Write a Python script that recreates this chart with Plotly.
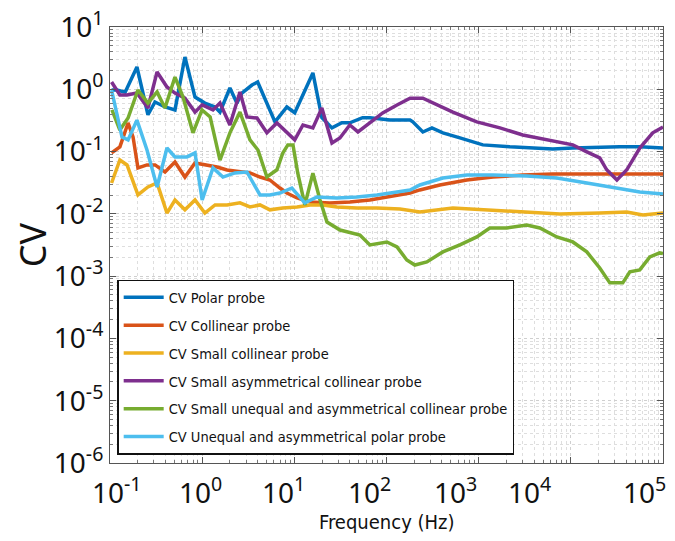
import plotly.graph_objects as go

# ---------------- data ----------------
f_polar = [0.104, 0.119, 0.146, 0.196, 0.258, 0.308, 0.395, 0.507, 0.65, 0.836, 1.07, 1.38, 1.56, 2.0, 2.38, 2.7,
           3.47, 4.0, 6.17, 8.3, 10.1, 15.9, 19.9, 25.6, 32.8, 40, 55, 66, 109, 180, 193, 248, 311, 409, 626, 1110,
           2180, 3870, 6380, 10500, 20600, 34000, 56000, 100000]
cv_polar = [0.97, 0.97, 0.9, 2.28, 0.39, 0.625, 0.52, 0.466, 3.3, 0.75, 0.6, 0.52, 0.43, 1.05, 0.6, 0.87,
            1.17, 1.31, 0.30, 0.52, 0.42, 1.83, 0.35, 0.24, 0.29, 0.29, 0.35, 0.35, 0.32, 0.32, 0.30, 0.206, 0.24,
            0.2, 0.166, 0.128, 0.119, 0.114, 0.11, 0.114, 0.119, 0.119, 0.119, 0.114]

f_coll = [0.104, 0.128, 0.157, 0.178, 0.201, 0.252, 0.308, 0.395, 0.507, 0.65, 0.836, 1.13, 1.45, 1.86, 2.57, 3.3,
          4.24, 5.43, 6.98, 8.3, 10.7, 14.8, 24.3, 40, 66, 109, 180, 230, 379, 745, 1430, 3010, 6380, 14900,
          47000, 100000]
cv_coll = [0.095, 0.119, 0.288, 0.171, 0.0546, 0.061, 0.061, 0.047, 0.068, 0.039, 0.0656, 0.061, 0.0566, 0.0507,
           0.047, 0.0454, 0.039, 0.035, 0.026, 0.0216, 0.018, 0.0155, 0.015, 0.0155, 0.0167, 0.0187, 0.0216,
           0.0242, 0.0291, 0.035, 0.039, 0.042, 0.0437, 0.0437, 0.0437, 0.0437]

f_small = [0.104, 0.128, 0.153, 0.201, 0.258, 0.324, 0.415, 0.507, 0.65, 0.836, 1.07, 1.38, 1.86, 2.57, 3.3, 4.24,
           5.43, 7.5, 10.7, 14.8, 20.4, 29, 47.8, 78.7, 140, 230, 525, 1230, 2800, 7600, 20600, 40500, 60400,
           100000]
cv_small = [0.0313, 0.0733, 0.061, 0.0201, 0.027, 0.0313, 0.0103, 0.0167, 0.0116, 0.0167, 0.0103, 0.0139, 0.0139,
            0.015, 0.0129, 0.0139, 0.0116, 0.0124, 0.0129, 0.0139, 0.0139, 0.0129, 0.0124, 0.0124, 0.012, 0.0107,
            0.0124, 0.0116, 0.0107, 0.00996, 0.0103, 0.0107, 0.0096, 0.0103]

f_asym = [0.104, 0.128, 0.153, 0.196, 0.258, 0.324, 0.415, 0.507, 0.65, 0.836, 1.0, 1.31, 1.56, 2.0, 2.57, 3.06,
          3.93, 5.04, 6.47, 8.3, 10.1, 12.4, 15.9, 19.9, 25.6, 31.2, 40, 49, 66, 91, 130, 180, 248, 318, 525, 955,
          1700, 3010, 5490, 8190, 10500, 14900, 20600, 24500, 31600, 40500, 56000, 77400, 100000]
cv_asym = [1.31, 0.81, 0.81, 0.87, 0.50, 1.9, 1.09, 0.87, 0.72, 0.43, 0.56, 0.466, 0.60, 0.267, 0.906, 0.36,
           0.346, 0.2, 0.288, 0.207, 0.154, 0.267, 0.24, 0.5, 0.137, 0.165, 0.267, 0.207, 0.288, 0.417, 0.56,
           0.72, 0.72, 0.6, 0.43, 0.3, 0.24, 0.185, 0.154, 0.137, 0.128, 0.099, 0.079, 0.051, 0.035, 0.051,
           0.114, 0.2, 0.248]

f_uneq_coll = [0.105, 0.128, 0.157, 0.201, 0.258, 0.324, 0.395, 0.507, 0.62, 0.795, 0.995, 1.22, 1.56, 2.0, 2.57,
               3.3, 4.03, 5.04, 6.47, 7.5, 8.5, 9.67, 10.9, 13.0, 15.9, 19.0, 22.6, 31.3, 51.5, 66, 101, 130, 166,
               203, 274, 409, 626, 955, 1320, 2020, 3330, 4610, 7050, 10500, 14900, 20600, 26500, 36600, 43700,
               56000, 72000, 92000, 100000]
cv_uneq_coll = [0.466, 0.222, 0.346, 0.975, 0.6, 0.906, 0.5, 1.57, 0.75, 0.2, 0.466, 0.36, 0.073, 0.2, 0.43,
                0.154, 0.106, 0.039, 0.051, 0.095, 0.128, 0.128, 0.045, 0.0139, 0.045, 0.0167, 0.0074, 0.0055,
                0.00458, 0.00317, 0.00354, 0.00294, 0.00182, 0.00151, 0.00169, 0.00245, 0.00317, 0.00426,
                0.00594, 0.00594, 0.00664, 0.00594, 0.00426, 0.00354, 0.00245, 0.00135, 0.00078, 0.00078,
                0.00117, 0.00126, 0.00203, 0.00236, 0.0023]

f_uneq_polar = [0.104, 0.119, 0.135, 0.157, 0.196, 0.252, 0.324, 0.415, 0.507, 0.684, 0.836, 1.0, 1.31, 1.68,
                2.27, 3.06, 4.24, 5.43, 6.98, 9.4, 13.0, 17.6, 29, 47.8, 78.7, 130, 180, 230, 409, 745, 1430,
                3330, 7050, 14900, 31600, 56000, 100000]
cv_uneq_polar = [0.97, 0.417, 0.171, 0.154, 0.32, 0.106, 0.027, 0.114, 0.082, 0.082, 0.095, 0.0167, 0.0546,
                 0.039, 0.0454, 0.047, 0.0201, 0.0201, 0.0216, 0.026, 0.015, 0.0187, 0.018, 0.0187, 0.0201,
                 0.0225, 0.0242, 0.0291, 0.0377, 0.042, 0.042, 0.0405, 0.0377, 0.0313, 0.026, 0.0225, 0.0209]

series_names = ["CV Polar probe", "CV Collinear probe", "CV Small collinear probe",
                "CV Small asymmetrical collinear probe",
                "CV Small unequal and asymmetrical collinear probe",
                "CV Unequal and asymmetrical polar probe"]
series_x = [f_polar, f_coll, f_small, f_asym, f_uneq_coll, f_uneq_polar]
series_y = [cv_polar, cv_coll, cv_small, cv_asym, cv_uneq_coll, cv_uneq_polar]
colors = ["#0072BD", "#D95319", "#EDB120", "#7E2F8E", "#77AC30", "#4DBEEE"]

x_tick_labels = ["10<sup>-1</sup>", "10<sup>0</sup>", "10<sup>1</sup>", "10<sup>2</sup>",
                 "10<sup>3</sup>", "10<sup>4</sup>", "10<sup>5</sup>"]
# label centres as placed in the reference (fraction of plot width)
x_label_pos = [0.013, 0.163, 0.313, 0.470, 0.624, 0.759, 0.967]

y_tick_vals = [1e-6, 1e-5, 1e-4, 1e-3, 1e-2, 1e-1, 1, 10]
y_tick_text = ["10<sup>-6</sup>", "10<sup>-5</sup>", "10<sup>-4</sup>", "10<sup>-3</sup>",
               "10<sup>-2</sup>", "10<sup>-1</sup>", "10<sup>0</sup>", "10<sup>1</sup>"]

# ---------------- figure ----------------
LABEL_FONT = "Noto Sans, Open Sans, sans-serif"
NARROW_FONT = "Liberation Sans Narrow, DejaVu Sans Condensed, Roboto, sans-serif"

fig = go.Figure()
for i, (name, xs, ys, c) in enumerate(zip(series_names, series_x, series_y, colors)):
    fig.add_trace(go.Scatter(x=xs, y=ys, mode="lines", name=name, legendgroup=f"g{i}",
                             line=dict(color=c, width=3.5)))

axis_common = dict(
    type="log", showline=True, linecolor="#555", linewidth=1, mirror="allticks",
    ticks="inside", ticklen=6, tickcolor="#555", automargin=False,
    showgrid=True, gridcolor="#cfcfcf", gridwidth=1, griddash="dot",
    minor=dict(dtick="D1", ticks="inside", ticklen=3, tickcolor="#777", showgrid=True,
               gridcolor="#dedede", griddash="dot"),
    zeroline=False,
)

fig.update_xaxes(**axis_common, range=[-1, 5], dtick=1, showticklabels=False)
fig.update_yaxes(**axis_common, range=[-6, 1], tickvals=y_tick_vals, ticktext=y_tick_text,
                 ticklabeloverflow="allow",
                 tickfont=dict(family=LABEL_FONT, size=28, color="#111"),
                 title=dict(text="CV", font=dict(family=LABEL_FONT, size=36, color="#111"), standoff=4))

for lab, xp in zip(x_tick_labels, x_label_pos):
    fig.add_annotation(text=lab, x=xp, xref="paper", xanchor="center", y=-0.012, yref="paper",
                       yanchor="top", showarrow=False,
                       font=dict(family=LABEL_FONT, size=28, color="#111"))

fig.add_annotation(text="Frequency (Hz)", x=0.5, xref="paper", xanchor="center", y=-0.135, yref="paper",
                   yanchor="middle", showarrow=False,
                   font=dict(family=NARROW_FONT, size=20, color="#111"))

# the page body adds an 8 px offset, so the figure is sized/margined to compensate
fig.update_layout(
    width=667, height=533,
    margin=dict(l=102, r=12, t=19, b=78),
    paper_bgcolor="white", plot_bgcolor="white",
    legend=dict(x=0.013, y=0.42, xanchor="left", yanchor="top",
                bgcolor="white", bordercolor="#111", borderwidth=1.5,
                font=dict(family=NARROW_FONT, size=14.5, color="#111"),
                tracegroupgap=6, itemwidth=40),
    showlegend=True,
)

fig.write_html("out.html")
